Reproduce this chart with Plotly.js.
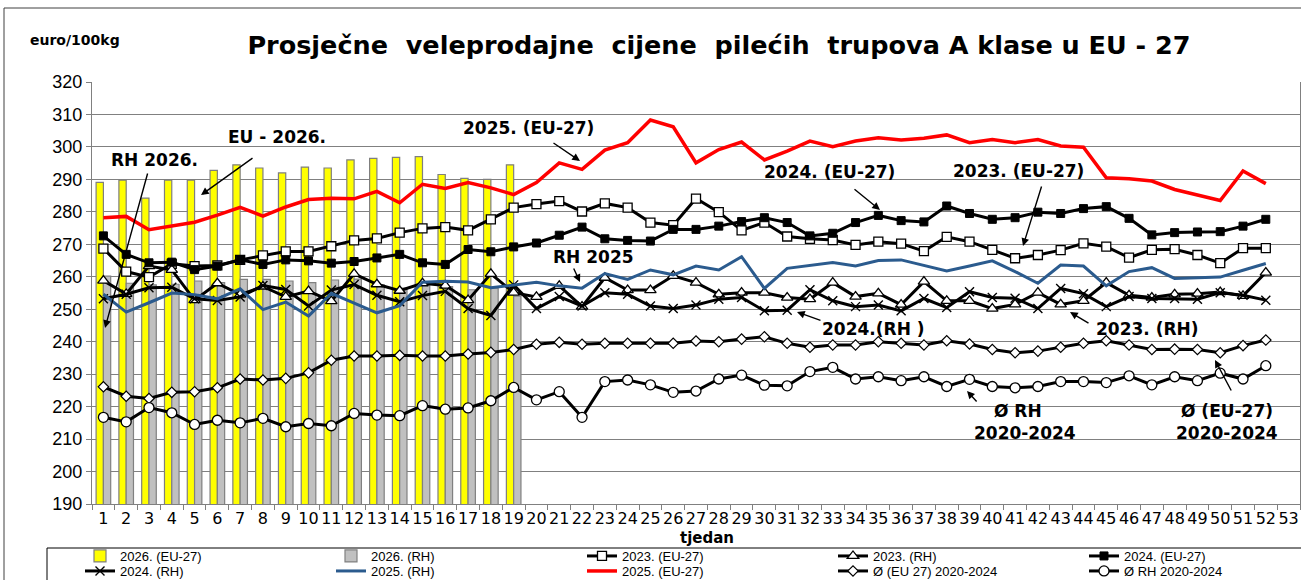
<!DOCTYPE html>
<html>
<head>
<meta charset="utf-8">
<script src="https://cdn.plot.ly/plotly-3.0.1.min.js"></script>
<style>
html,body{margin:0;padding:0;background:#fff;}
#chart{width:1301px;height:580px;}
</style>
</head>
<body>
<div id="chart"></div>
<script>
const weeks = ['1','2','3','4','5','6','7','8','9','10','11','12','13','14','15','16','17','18','19','20',
'21','22','23','24','25','26','27','28','29','30','31','32','33','34','35','36','37','38','39','40',
'41','42','43','44','45','46','47','48','49','50','51','52','53'];

const eu2026 = [289.1, 289.8, 284.2, 289.8, 289.8, 292.8, 294.5, 293.5, 292.0, 293.8, 293.5, 296.0, 296.5, 296.8, 297.0, 291.5, 290.3, 290.0, 294.5];
const rh2026 = [260.2, 258.0, 257.5, 257.7, 258.7, 258.2, 259.2, 259.2, 258.7, 258.2, 259.0, 259.3, 257.5, 256.5, 258.0, 257.0, 256.0, 256.5, 254.0];

const eu2023 = [268.7, 261.6, 259.9, 264.0, 263.3, 263.5, 265.2, 266.6, 267.8, 267.8, 269.4, 271.2, 271.8, 273.6, 274.9, 275.3, 274.3, 277.7, 281.3, 282.4,
283.3, 280.1, 282.6, 281.3, 276.7, 275.9, 284.1, 279.9, 274.3, 276.7, 272.4, 271.7, 271.3, 269.8, 270.8, 270.2, 267.9, 272.3, 270.8, 268.3,
265.7, 266.7, 268.2, 270.3, 269.3, 265.9, 268.3, 268.5, 266.7, 264.2, 268.8, 268.8];

const rh2023 = [258.8, 254.7, 263.3, 262.1, 252.8, 258.0, 254.5, 257.0, 253.8, 255.6, 252.5, 260.9, 257.7, 255.7, 258.0, 257.3, 252.8, 260.9, 255.1, 253.8,
257.2, 250.8, 259.7, 255.9, 255.9, 260.3, 258.2, 254.6, 255.1, 255.1, 253.6, 253.1, 258.2, 253.9, 254.9, 251.4, 258.5, 252.6, 252.6, 250.2,
251.5, 255.1, 251.5, 252.6, 258.2, 254.3, 253.6, 254.6, 254.8, 255.3, 254.1, 261.3];

const eu2024 = [272.6, 266.9, 264.3, 264.5, 262.2, 263.3, 265.2, 263.8, 265.2, 264.9, 264.2, 264.7, 265.8, 266.9, 264.3, 263.8, 268.4, 267.7, 269.2, 270.4,
272.8, 275.3, 271.7, 271.2, 271.0, 274.6, 274.6, 275.6, 277.0, 278.2, 276.7, 272.6, 273.4, 276.7, 278.9, 277.3, 276.9, 281.8, 279.5, 277.7,
278.2, 279.9, 279.5, 281.0, 281.6, 278.0, 272.9, 273.6, 273.8, 273.9, 275.6, 277.7];

const rh2024 = [253.2, 254.6, 256.6, 256.8, 253.2, 252.7, 253.8, 257.3, 256.1, 251.0, 255.9, 257.6, 254.3, 252.3, 254.2, 255.5, 250.2, 248.1, 257.5, 250.2,
253.9, 251.0, 255.1, 254.6, 251.0, 250.2, 251.3, 253.1, 253.6, 249.5, 249.7, 256.0, 252.6, 250.8, 251.3, 249.5, 253.3, 250.5, 255.4, 253.6,
253.4, 250.2, 256.4, 254.8, 250.8, 253.9, 253.3, 253.3, 253.1, 255.1, 254.3, 252.8];

const rh2025 = [254.6, 249.1, 252.0, 255.0, 254.5, 253.2, 256.3, 249.9, 252.2, 247.9, 254.9, 251.8, 248.9, 251.1, 258.3, 258.6, 258.4, 256.6, 257.5, 258.3,
257.2, 256.5, 261.0, 259.2, 262.1, 260.6, 263.3, 262.1, 266.2, 256.4, 262.6, 263.5, 264.4, 263.3, 265.0, 265.2, 263.6, 261.8, 263.3, 264.9,
261.6, 258.0, 263.6, 263.3, 257.2, 261.6, 262.8, 259.5, 259.7, 259.9, 262.0, 264.1];

const eu2025 = [278.2, 278.6, 274.5, 275.6, 276.8, 279.0, 281.4, 278.7, 281.5, 283.8, 284.2, 284.0, 286.3, 282.8, 288.5, 287.2, 289.0, 287.4, 285.3, 289.0,
295.1, 293.1, 299.0, 301.3, 308.3, 306.2, 295.1, 299.2, 301.5, 296.0, 298.7, 301.8, 300.1, 301.8, 302.8, 302.1, 302.7, 303.7, 301.3, 302.3,
301.3, 302.3, 300.3, 299.9, 290.5, 290.2, 289.5, 286.9, 285.1, 283.5, 292.6, 288.7];

const avgEU = [226.1, 223.2, 222.5, 224.4, 224.6, 225.8, 228.5, 228.2, 228.7, 230.4, 234.3, 235.6, 235.6, 235.8, 235.6, 235.6, 236.2, 236.7, 237.6, 239.2,
239.8, 239.2, 239.5, 239.5, 239.5, 239.5, 240.2, 240.0, 240.8, 241.5, 239.5, 238.3, 239.0, 239.0, 240.0, 239.5, 239.0, 240.3, 239.3, 237.6,
236.6, 237.1, 238.3, 239.5, 240.3, 239.0, 237.6, 237.7, 237.6, 236.6, 238.8, 240.5];

const avgRH = [216.7, 215.3, 219.7, 218.1, 214.5, 215.8, 215.0, 216.4, 213.8, 214.8, 214.1, 217.9, 217.4, 217.2, 220.3, 219.2, 219.6, 221.8, 225.9, 222.1,
224.6, 216.7, 227.7, 228.2, 226.7, 224.4, 224.8, 228.5, 229.7, 226.6, 226.4, 230.8, 232.1, 228.5, 229.2, 228.0, 229.2, 226.2, 228.4, 226.2,
225.8, 226.2, 227.7, 227.7, 227.4, 229.5, 226.7, 229.2, 228.0, 230.3, 228.5, 232.6];

const seriesNames = ['2026. (EU-27)', '2026. (RH)', '2023. (EU-27)', '2023. (RH)', '2024. (EU-27)',
  '2024. (RH)', '2025. (RH)', '2025. (EU-27)', 'Ø (EU 27) 2020-2024', 'Ø RH 2020-2024'];

const W = 1301, H = 580, L = 92, R = 1, T = 82, B = 76;
const pw = W - L - R, ph = H - T - B;
const px = v => (v - L) / pw;
const py = v => (H - B - v) / ph;

const lineWeeks = weeks.slice(0, eu2025.length);
const barWeeks = weeks.slice(0, eu2026.length);

function lineTrace(name, y, color, width, marker, lg) {
  const t = {
    type: 'scatter', mode: marker ? 'lines+markers' : 'lines', name: name,
    x: lineWeeks, y: y, legend: lg,
    line: {color: color, width: width},
    hoverinfo: 'skip'
  };
  if (marker) t.marker = marker;
  return t;
}

const data = [
  {type: 'bar', name: seriesNames[0], x: barWeeks, y: eu2026, legend: 'legend',
   marker: {color: '#FFFF00', line: {color: '#7F7F7F', width: 1.2}}, hoverinfo: 'skip'},
  {type: 'bar', name: seriesNames[1], x: barWeeks, y: rh2026, legend: 'legend',
   marker: {color: '#C0C0C0', line: {color: '#808080', width: 1.2}}, hoverinfo: 'skip'},
  lineTrace(seriesNames[2], eu2023, '#000000', 3,
    {symbol: 'square', size: 9, color: '#FFFFFF', line: {color: '#000000', width: 1.3}}, 'legend'),
  lineTrace(seriesNames[3], rh2023, '#000000', 3,
    {symbol: 'triangle-up', size: 10, color: '#FFFFFF', line: {color: '#000000', width: 1.3}}, 'legend'),
  lineTrace(seriesNames[4], eu2024, '#000000', 3,
    {symbol: 'square', size: 8, color: '#000000', line: {color: '#000000', width: 1}}, 'legend'),
  lineTrace(seriesNames[5], rh2024, '#000000', 3,
    {symbol: 'x-thin-open', size: 9, color: '#000000', line: {color: '#000000', width: 1.4}}, 'legend2'),
  lineTrace(seriesNames[6], rh2025, '#2B5B8E', 3, null, 'legend2'),
  lineTrace(seriesNames[7], eu2025, '#FF0000', 3.5, null, 'legend2'),
  lineTrace(seriesNames[8], avgEU, '#000000', 3,
    {symbol: 'diamond', size: 8, color: '#FFFFFF', line: {color: '#000000', width: 1.2}}, 'legend2'),
  lineTrace(seriesNames[9], avgRH, '#000000', 3,
    {symbol: 'circle', size: 10, color: '#FFFFFF', line: {color: '#000000', width: 1.3}}, 'legend2')
];

const boldFam = 'DejaVu Sans, Verdana, sans-serif';
const labelFont = {family: boldFam, size: 17, color: '#000000'};

function txt(text, cx, cy) {
  return {xref: 'paper', yref: 'paper', x: px(cx), y: py(cy), xanchor: 'center', yanchor: 'middle',
          text: '<b>' + text + '</b>', showarrow: false, font: labelFont};
}
function arrow(tx, ty, hx, hy) {
  return {xref: 'paper', yref: 'paper', x: px(hx), y: py(hy), axref: 'pixel', ayref: 'pixel',
          ax: tx - hx, ay: ty - hy, text: '', showarrow: true, arrowhead: 2, arrowsize: 1.1,
          arrowwidth: 1.4, arrowcolor: '#000000', standoff: 0, startstandoff: 0};
}

const annotations = [
  {xref: 'paper', yref: 'paper', x: px(75), y: py(40), xanchor: 'center', yanchor: 'middle',
   text: '<b>euro/100kg</b>', showarrow: false, font: {family: boldFam, size: 14, color: '#000'}},
  {xref: 'paper', yref: 'paper', x: px(707), y: py(538), xanchor: 'center', yanchor: 'middle',
   text: '<b>tjedan</b>', showarrow: false, font: {family: boldFam, size: 15, color: '#000'}},
  txt('EU - 2026.', 277, 137),
  txt('RH 2026.', 154, 160),
  txt('2025. (EU-27)', 528, 128),
  txt('2024. (EU-27)', 829, 172),
  txt('2023. (EU-27)', 1018, 171),
  txt('RH 2025', 593, 257),
  txt('2024.(RH )', 873, 329),
  txt('2023. (RH)', 1147, 329),
  txt('Ø RH', 1018, 411),
  txt('2020-2024', 1025, 433),
  txt('Ø (EU-27)', 1227, 411),
  txt('2020-2024', 1227, 433),
  arrow(254, 157, 201, 195),
  arrow(148, 172, 105, 328),
  arrow(552, 142, 580, 161),
  arrow(853, 188, 880, 210),
  arrow(1042, 185, 1023, 246),
  arrow(573, 267, 580, 282),
  arrow(822, 321, 797, 312),
  arrow(1090, 324, 1070, 312),
  arrow(978, 403, 967, 391),
  arrow(1232, 392, 1215, 360)
];

const legendBase = {
  orientation: 'h', xanchor: 'left', yanchor: 'top',
  bgcolor: 'rgba(0,0,0,0)', borderwidth: 0,
  font: {family: 'Liberation Sans, Arial, sans-serif', size: 13, color: '#000'},
  entrywidth: 206, entrywidthmode: 'pixels', traceorder: 'normal', tracegroupgap: 0
};

const layout = {
  width: W, height: H,
  margin: {l: L, r: R, t: T, b: B, pad: 0, autoexpand: false},
  paper_bgcolor: '#FFFFFF', plot_bgcolor: '#FFFFFF',
  font: {family: 'Liberation Sans, Arial, sans-serif', color: '#000000'},
  title: {text: '<b>Prosječne  veleprodajne  cijene  pilećih  trupova A klase u EU - 27</b>',
          font: {family: boldFam, size: 25.5, color: '#000'},
          xref: 'container', yref: 'container', x: 719 / W, y: 1 - 45 / H, xanchor: 'center', yanchor: 'middle'},
  barmode: 'group', bargap: 0.36, bargroupgap: 0,
  showlegend: true,
  legend: Object.assign({}, legendBase, {x: px(80), y: py(541)}),
  legend2: Object.assign({}, legendBase, {x: px(80), y: py(556)}),
  xaxis: {type: 'category', categoryorder: 'array', categoryarray: weeks, range: [-0.5, weeks.length - 0.5],
          tickangle: 0, tickfont: {family: 'DejaVu Sans, sans-serif', size: 16, color: '#000'},
          showgrid: false, showline: true, linecolor: '#808080', linewidth: 1,
          ticks: 'outside', ticklen: 5, tickcolor: '#808080', tickson: 'boundaries',
          zeroline: false, fixedrange: true},
  yaxis: {range: [190, 320], tick0: 190, dtick: 10, showgrid: true, gridcolor: '#808080', gridwidth: 1,
          showline: true, linecolor: '#808080', linewidth: 1, mirror: true,
          ticks: 'outside', ticklen: 5, tickcolor: '#808080',
          tickfont: {family: 'Liberation Sans, Arial, sans-serif', size: 18, color: '#000'},
          zeroline: false, fixedrange: true},
  annotations: annotations,
  shapes: [
    {type: 'rect', xref: 'paper', yref: 'paper', x0: px(4), x1: px(1320), y0: py(600), y1: py(8),
     line: {color: '#404040', width: 1}, fillcolor: 'rgba(0,0,0,0)', layer: 'below'},
    {type: 'rect', xref: 'paper', yref: 'paper', x0: px(47), x1: px(1320), y0: py(600), y1: py(548),
     line: {color: '#000000', width: 1}, fillcolor: 'rgba(0,0,0,0)', layer: 'below'}
  ]
};

Plotly.newPlot('chart', data, layout, {staticPlot: true, displayModeBar: false});
</script>
</body>
</html>
